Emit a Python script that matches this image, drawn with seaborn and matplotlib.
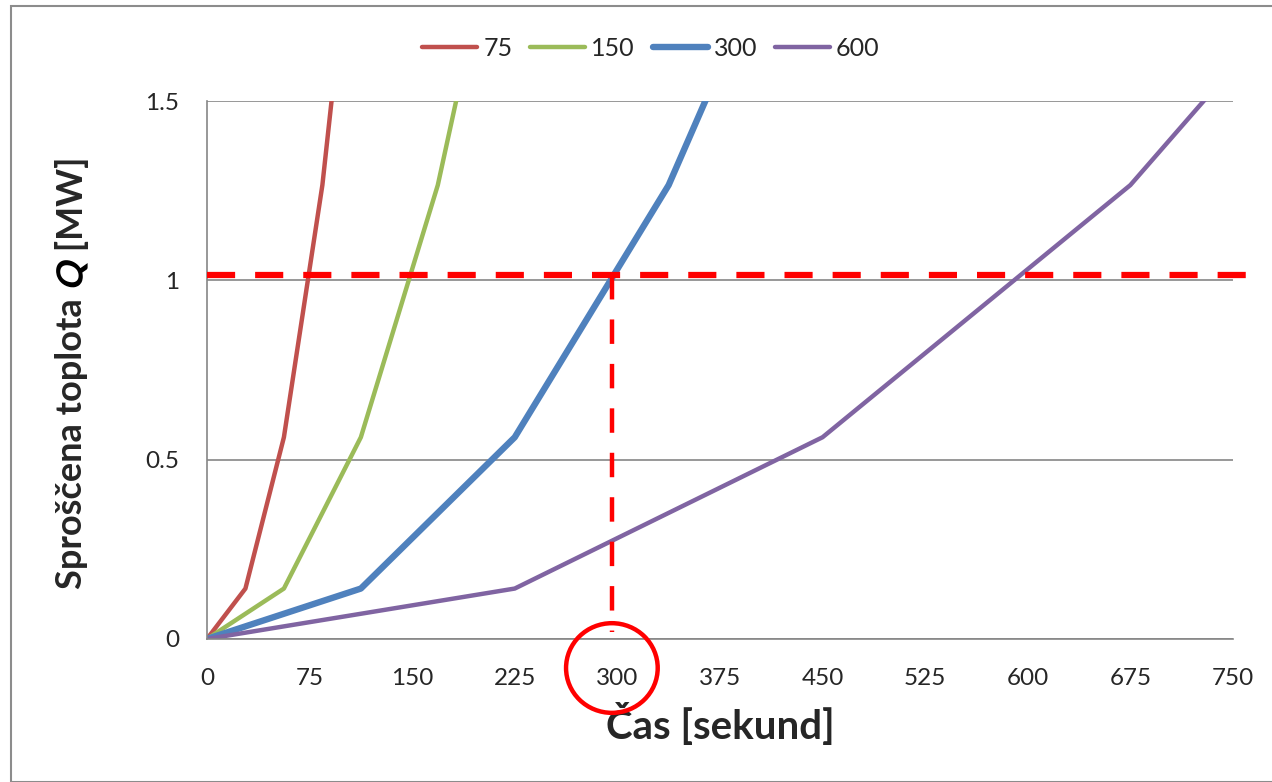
import pandas as pd
import matplotlib.pyplot as plt
import seaborn as sns
from matplotlib.patches import Ellipse, Rectangle, PathPatch
from matplotlib.font_manager import FontProperties
from matplotlib.textpath import TextPath
from matplotlib.transforms import Affine2D

# fire growth curves, time in seconds, heat release in MW
series = ['75', '150', '300', '600']
t_75 = [0, 28.125, 56.25, 84.375, 112.5]
t_150 = [0, 56.25, 112.5, 168.75, 225]
t_300 = [0, 112.5, 225, 337.5, 450]
t_600 = [0, 225, 450, 675, 900]
q_values = [0, 0.1406, 0.5625, 1.2656, 2.25]

x_ticks = [0, 75, 150, 225, 300, 375, 450, 525, 600, 675, 750]
y_ticks = [0, 0.5, 1, 1.5]
q_marker = 1.015
t_marker = 296

times = {'75': t_75, '150': t_150, '300': t_300, '600': t_600}
rows = []
for name in series:
    for t, q in zip(times[name], q_values):
        rows.append({'t': t, 'Q': q, 'series': name})
df = pd.DataFrame(rows)

sns.set_style('white')
plt.rcParams['font.family'] = ['Lato', 'DejaVu Sans']

colors = {'75': '#C0504D', '150': '#9BBB59', '300': '#4F81BD', '600': '#8064A2'}
widths = {'75': 3.2, '150': 3.2, '300': 4.6, '600': 3.2}

fig = plt.figure(figsize=(12.72, 7.82), dpi=100)
ax = fig.add_axes([0.1627, 0.1829, 0.8066, 0.6879])

sns.lineplot(data=df, x='t', y='Q', hue='series', palette=colors, ax=ax,
             sort=False, estimator=None)
for line, name in zip(ax.get_lines(), series):
    line.set_linewidth(widths[name])
    line.set_solid_capstyle('round')

ax.set_xlim(0, 750)
ax.set_ylim(0, 1.5)
ax.set_xticks(x_ticks)
ax.set_yticks(y_ticks)
ax.set_yticklabels(['0', '0.5', '1', '1.5'])
ax.tick_params(axis='x', labelsize=17.5, pad=21, length=0)
ax.tick_params(axis='y', labelsize=17.5, pad=20, length=0)
ax.yaxis.grid(True, color='#868686', linewidth=1.2)
ax.xaxis.grid(False)
for side in ['top', 'right']:
    ax.spines[side].set_visible(False)
for side in ['left', 'bottom']:
    ax.spines[side].set_color('#868686')
    ax.spines[side].set_linewidth(1.2)

# red guide lines
ax.plot([0, 769], [q_marker, q_marker], color='#FF0000', linewidth=4.5,
        dashes=(4.5, 3.2), clip_on=False, zorder=5)
ax.plot([t_marker, t_marker], [q_marker, 0.02], color='#FF0000', linewidth=3.2,
        dashes=(5.5, 4.5), clip_on=False, zorder=5)
ax.add_patch(Ellipse((t_marker, -0.081), 67, 0.25, fill=False, edgecolor='#FF0000',
                     linewidth=3.2, clip_on=False, zorder=5))

ax.set_xlabel('Čas [sekund]', fontsize=29, fontweight='bold', labelpad=10)
ax.set_ylabel('')

# y label in pieces; Q drawn as a slanted text path so it is italic
label_size = 26
bold = FontProperties(family=['Lato', 'DejaVu Sans'], weight='bold', size=label_size)
parts = ['Sproščena toplota ', 'Q', ' [MW]']
renderer = fig.canvas.get_renderer()
texts = []
for s in parts:
    t = fig.text(0, 0, s, rotation=90, fontproperties=bold, ha='center', va='bottom')
    texts.append(t)
heights = [t.get_window_extent(renderer).height for t in texts]
label_x = 72
bottom_px = 782 - 373 - sum(heights) / 2
q_bottom = 0
for t, h, s in zip(texts, heights, parts):
    t.set_position((label_x / 1272, bottom_px / 782))
    if s == 'Q':
        q_bottom = bottom_px
        t.set_alpha(0)
    bottom_px += h

_, lp_h, lp_d = renderer.get_text_width_height_descent('lp', bold, ismath=False)
_, q_h, q_d = renderer.get_text_width_height_descent('Q', bold, ismath=False)
box_h = max(lp_h, q_h)
box_d = max(lp_d, q_d)
baseline_x = label_x + box_h / 2 - box_d
q_path = TextPath((0, 0), 'Q', size=label_size * 100 / 72, prop=bold)
q_tr = Affine2D().skew_deg(12, 0).translate(-1.5, 0).rotate_deg(90).translate(baseline_x, q_bottom)
fig.patches.append(PathPatch(q_tr.transform_path(q_path), facecolor='black',
                             edgecolor='none', transform=None, figure=fig))

handles, labels = ax.get_legend_handles_labels()
ax.get_legend().remove()
leg = fig.legend(handles, labels, loc='center', bbox_to_anchor=(651 / 1272, 1 - 48 / 782),
                 ncol=4, frameon=False, fontsize=18, handlelength=2.2,
                 columnspacing=0.7, handletextpad=0.25)
for h, name in zip(leg.get_lines(), series):
    h.set_linewidth(widths[name])
    h.set_solid_capstyle('round')

fig.patches.append(Rectangle((11 / 1272, 0), 1.2, 1 - 6 / 782, transform=fig.transFigure,
                             fill=False, edgecolor='#8c8c8c', linewidth=1.5))

fig.savefig('out.png', dpi=100)
